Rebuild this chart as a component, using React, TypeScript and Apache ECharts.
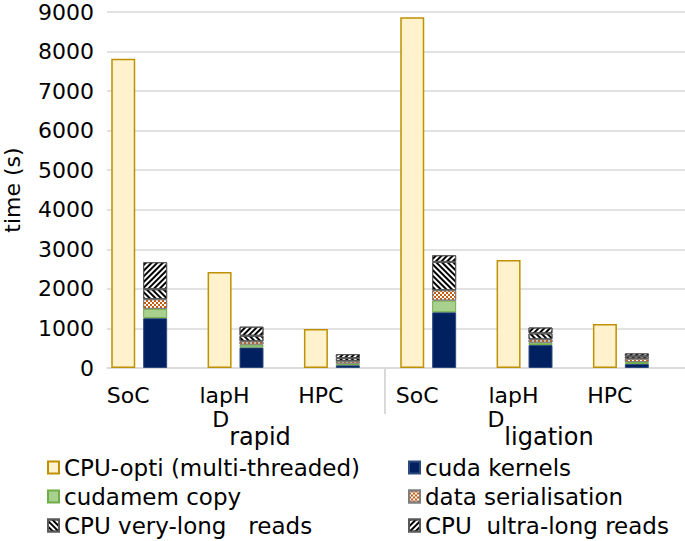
import React, { useEffect, useRef } from "react";
import * as echarts from "echarts";

const categories = ["SoC", "lapH", "HPC", "SoC", "lapH", "HPC"];
const groups = ["rapid", "ligation"];
const yMin = 0;
const yMax = 9000;
const yInterval = 1000;

const cpuOpti = [7820, 2430, 985, 8870, 2730, 1110];
const cudaKernels = [1260, 520, 70, 1410, 580, 100];
const cudaMemCopy = [235, 70, 40, 294, 60, 50];
const dataSerialisation = [245, 85, 65, 262, 85, 85];
const cpuVeryLong = [252, 140, 75, 716, 150, 60];
const cpuUltraLong = [683, 230, 100, 169, 150, 75];

const names = {
  cpu: "CPU-opti (multi-threaded)",
  cuda: "cuda kernels",
  mem: "cudamem copy",
  ser: "data serialisation",
  very: "CPU very-long   reads",
  ultra: "CPU  ultra-long reads",
};

const FONT = "DejaVu Sans";

export default function App() {
  const ref = useRef<HTMLDivElement>(null);
  useEffect(() => {
    if (!ref.current) return;
    const chart = echarts.init(ref.current, undefined, { renderer: "svg" });
    const stripe = (rot: number) => ({
      symbol: "rect",
      symbolSize: 1,
      color: "#000000",
      dashArrayX: [1, 0],
      dashArrayY: [2, 2],
      rotation: rot,
    });
    const gpuBar = (name: string, data: number[], itemStyle: any) => ({
      name,
      type: "bar",
      stack: "gpu",
      barWidth: 24,
      barGap: "33%",
      data,
      itemStyle,
    });
    const legendCommon = {
      orient: "vertical",
      top: 456,
      padding: 0,
      itemWidth: 11,
      itemHeight: 12,
      itemGap: 6,
      icon: "rect",
      selectedMode: false,
      textStyle: { fontSize: 23, lineHeight: 22, fontFamily: FONT, color: "#000" },
    };
    chart.setOption({
      animation: false,
      textStyle: { fontFamily: FONT },
      grid: {
        left: 107,
        right: 0,
        top: 12,
        bottom: 173,
        containLabel: false,
        outerBoundsMode: "none",
      },
      legend: [
        { ...legendCommon, left: 47, data: [names.cpu, names.mem, names.very] },
        { ...legendCommon, left: 408, data: [names.cuda, names.ser, names.ultra] },
      ],
      xAxis: [
        {
          type: "category",
          data: categories,
          axisLine: { lineStyle: { color: "#D9D9D9", width: 1.5 } },
          axisTick: { show: false },
          axisLabel: {
            interval: 0,
            fontSize: 22,
            fontFamily: FONT,
            color: "#000",
            margin: 16,
            lineHeight: 22,
            padding: [0, 54, 0, 0],
          },
        },
        {
          type: "category",
          data: groups,
          position: "bottom",
          axisLine: { show: false },
          axisTick: { show: false },
          axisLabel: {
            interval: 0,
            margin: 40,
            formatter: (v: string) => `{d|D}{s|${v}}`,
            rich: {
              d: { fontSize: 22, fontFamily: FONT, color: "#000", verticalAlign: "top", lineHeight: 22 },
              s: { fontSize: 24, fontFamily: FONT, color: "#000", verticalAlign: "bottom", lineHeight: 41 },
            },
          },
        },
      ],
      yAxis: {
        type: "value",
        min: yMin,
        max: yMax,
        interval: yInterval,
        name: "time (s)",
        nameLocation: "middle",
        nameGap: 84,
        nameTextStyle: { fontSize: 22, fontFamily: FONT, color: "#000" },
        axisLine: { show: false },
        axisTick: { show: false },
        axisLabel: {
          fontSize: 22,
          fontFamily: FONT,
          color: "#000",
          margin: 13,
          formatter: (v: number) => String(v),
        },
        splitLine: { lineStyle: { color: "#D9D9D9", width: 1.5 } },
      },
      series: [
        {
          name: names.cpu,
          type: "bar",
          stack: "cpu",
          barWidth: 24,
          barGap: "33%",
          data: cpuOpti,
          itemStyle: { color: "#FFF2CC", borderColor: "#BF9000", borderWidth: 1.5 },
        },
        gpuBar(names.cuda, cudaKernels, { color: "#002060", borderColor: "#2E4A7D", borderWidth: 1 }),
        gpuBar(names.mem, cudaMemCopy, { color: "#A9D18E", borderColor: "#70AD47", borderWidth: 1 }),
        gpuBar(names.ser, dataSerialisation, {
          color: "#FFFFFF",
          borderColor: "#7F7F7F",
          borderWidth: 1,
          decal: {
            symbol: "rect",
            symbolSize: 1,
            color: "#C55A11",
            dashArrayX: [
              [2, 2],
              [0, 2, 2, 0],
            ],
            dashArrayY: [2, 0],
          },
        }),
        gpuBar(names.very, cpuVeryLong, {
          color: "#FFFFFF",
          borderColor: "#595959",
          borderWidth: 1,
          decal: stripe(Math.PI / 4),
        }),
        gpuBar(names.ultra, cpuUltraLong, {
          color: "#FFFFFF",
          borderColor: "#595959",
          borderWidth: 1,
          decal: stripe(-Math.PI / 4),
        }),
        {
          name: "spacer",
          type: "bar",
          stack: "spacer",
          barWidth: 24,
          barGap: "33%",
          data: categories.map(() => "-"),
        },
      ],
      graphic: [
        {
          type: "line",
          shape: { x1: 385, y1: 368, x2: 385, y2: 414 },
          style: { stroke: "#D9D9D9", lineWidth: 2 },
        },
      ],
    });
    return () => chart.dispose();
  }, []);
  return (
    <div
      ref={ref}
      style={{ position: "absolute", left: 0, top: 0, width: 685, height: 541 }}
    />
  );
}
